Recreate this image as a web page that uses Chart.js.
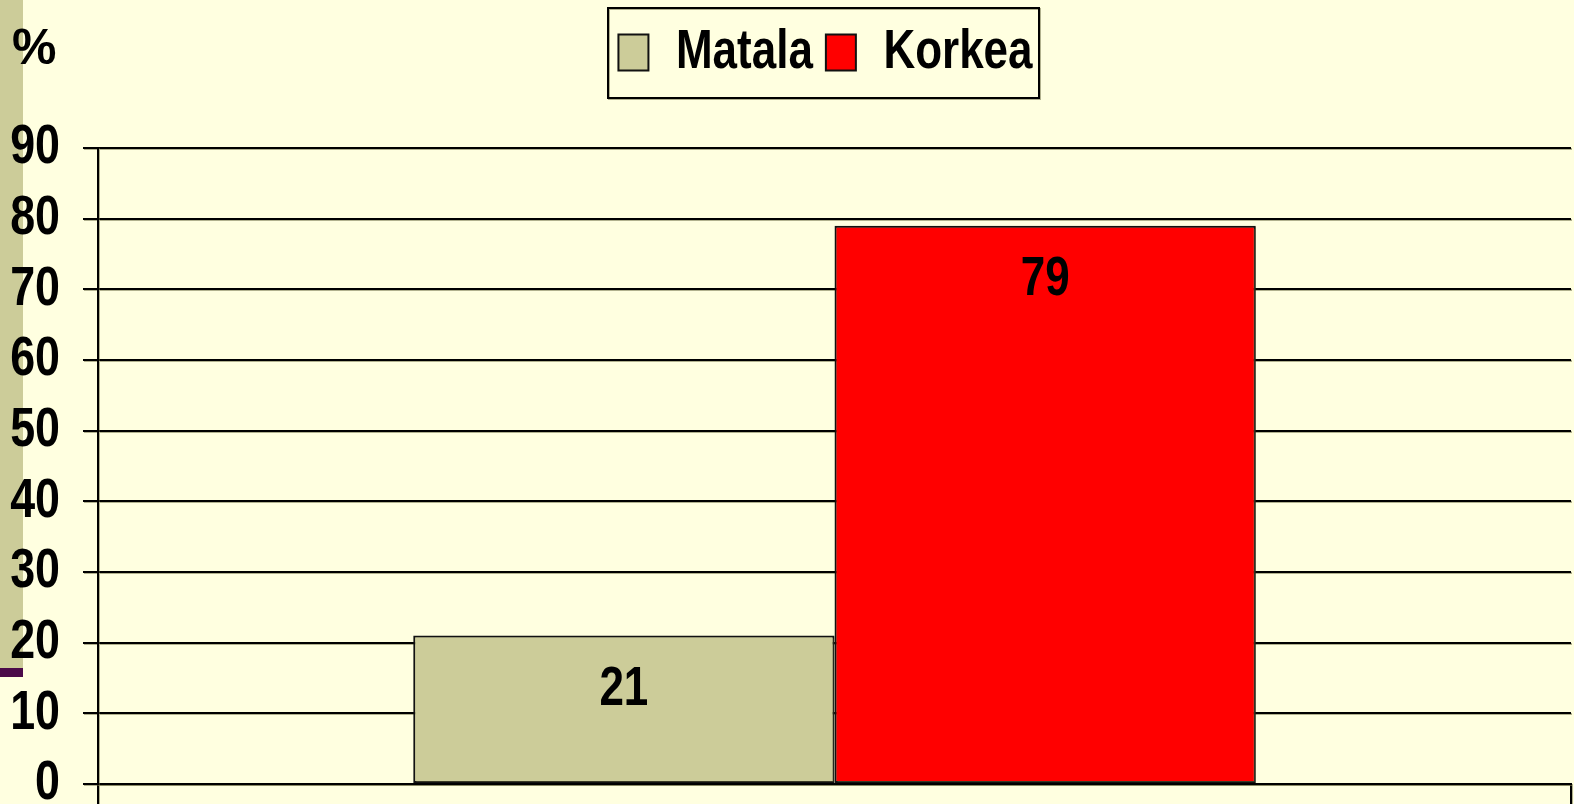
<!DOCTYPE html>
<html><head><meta charset="utf-8">
<script src="https://cdn.jsdelivr.net/npm/chart.js@4.4.1/dist/chart.umd.min.js"></script>
<style>
html,body{margin:0;padding:0;background:#FFFFE0;}
#wrap{position:relative;width:1574px;height:804px;}
#pct{position:absolute;left:12px;top:22px;font:bold 50px 'Liberation Sans',Arial,sans-serif;color:#000;line-height:1;}
</style></head><body>
<div id="wrap"><canvas id="c"></canvas><div id="pct">%</div></div>
<script>
const categories = [''];
const seriesNames = ['Matala', 'Korkea'];
const matalaValues = [21];
const korkeaValues = [79];
const yTickValues = [0, 10, 20, 30, 40, 50, 60, 70, 80, 90];

const F = "'Liberation Sans', Arial, sans-serif";

// Narrow (Arial Narrow-like) rendering of the chart's canvas text
const SQUEEZE = 0.8;
(function () {
  const P = CanvasRenderingContext2D.prototype;
  const f = P.fillText, m = P.measureText;
  P.fillText = function (t, x, y) {
    if (this.font.indexOf('Liberation Sans') < 0) return f.apply(this, arguments);
    this.save(); this.translate(x, y); this.scale(SQUEEZE, 1); f.call(this, t, 0, 0); this.restore();
  };
  P.measureText = function (t) {
    const r = m.call(this, t);
    if (this.font.indexOf('Liberation Sans') < 0) return r;
    return {
      width: r.width * SQUEEZE,
      actualBoundingBoxAscent: r.actualBoundingBoxAscent,
      actualBoundingBoxDescent: r.actualBoundingBoxDescent,
      actualBoundingBoxLeft: r.actualBoundingBoxLeft * SQUEEZE,
      actualBoundingBoxRight: r.actualBoundingBoxRight * SQUEEZE
    };
  };
})();

const SHADOW = 'rgba(100,100,60,0.5)';
function setShadow(ctx, on) {
  ctx.shadowColor = on ? SHADOW : 'rgba(0,0,0,0)';
  ctx.shadowOffsetX = on ? 1 : 0;
  ctx.shadowOffsetY = on ? 1 : 0;
  ctx.shadowBlur = 0;
}

const bgPlugin = {
  id: 'bg',
  beforeDraw(chart) {
    const ctx = chart.ctx;
    ctx.save();
    setShadow(ctx, false);
    ctx.fillStyle = '#FFFFE0';
    ctx.fillRect(0, 0, chart.width, chart.height);
    ctx.fillStyle = '#CCCC99';
    ctx.fillRect(0, 0, 23, 668);
    ctx.fillStyle = '#4B0A49';
    ctx.fillRect(0, 668, 23, 9);
    ctx.restore();
    setShadow(ctx, true);
  }
};

const legendPatch = {
  id: 'legendPatch',
  beforeInit(chart) {
    const lg = chart.legend;
    if (!lg || lg._patched) return;
    const fit = lg.fit, draw = lg.draw;
    lg.fit = function () { fit.call(this); this.height += 58; };
    lg.draw = function () {
      const hb = this.legendHitBoxes;
      let dx = 0;
      if (hb && hb.length) {
        const last = hb[hb.length - 1];
        dx = Math.round(825 - (hb[0].left + last.left + last.width) / 2);
      }
      this._dx = dx;
      const ctx = this.ctx;
      ctx.save();
      setShadow(ctx, false);
      ctx.translate(dx, 0);
      draw.apply(this, arguments);
      ctx.restore();
    };
    lg._patched = true;
  }
};

const legendBorder = {
  id: 'legendBorder',
  afterDraw(chart) {
    const lg = chart.legend;
    const hb = lg && lg.legendHitBoxes;
    if (!hb || !hb.length) return;
    const dx = lg._dx || 0;
    const last = hb[hb.length - 1];
    const l = hb[0].left - 10 + dx, r = last.left + last.width + 7 + dx;
    const t = hb[0].top - 17, b = hb[0].top + hb[0].height + 18;
    const ctx = chart.ctx;
    ctx.save();
    setShadow(ctx, true);
    ctx.strokeStyle = '#000';
    ctx.lineWidth = 2;
    ctx.strokeRect(Math.round(l), Math.round(t), Math.round(r - l), Math.round(b - t));
    ctx.restore();
  }
};

const valueLabels = {
  id: 'valueLabels',
  afterDatasetsDraw(chart) {
    const ctx = chart.ctx;
    setShadow(ctx, false);
    ctx.save();
    ctx.font = 'bold 55px ' + F;
    ctx.fillStyle = '#000';
    ctx.textAlign = 'center';
    ctx.textBaseline = 'middle';
    chart.data.datasets.forEach((ds, i) => {
      const meta = chart.getDatasetMeta(i);
      meta.data.forEach((bar, j) => {
        ctx.fillText(String(ds.data[j]), bar.x, bar.y + 54);
      });
    });
    ctx.restore();
  }
};

new Chart(document.getElementById('c'), {
  type: 'bar',
  data: {
    labels: categories,
    datasets: [
      { label: seriesNames[0], data: matalaValues, backgroundColor: '#CCCC99', borderColor: '#111', borderWidth: 2, borderSkipped: false },
      { label: seriesNames[1], data: korkeaValues, backgroundColor: '#FF0000', borderColor: '#111', borderWidth: 2, borderSkipped: false }
    ]
  },
  options: {
    responsive: true,
    maintainAspectRatio: false,
    animation: false,
    datasets: { bar: { categoryPercentage: 0.572, barPercentage: 1 } },
    layout: { padding: { left: 0, top: 12, right: 3, bottom: 0 } },
    plugins: {
      legend: {
        position: 'top', align: 'center',
        labels: { font: { family: F, size: 55, weight: 'bold' }, color: '#000', boxWidth: 30, boxHeight: 36, padding: 13 }
      },
      tooltip: { enabled: false }
    },
    scales: {
      x: {
        afterFit(s) { s.height = 20; s.paddingLeft = 0; s.paddingRight = 0; },
        grid: { offset: true, drawOnChartArea: false, tickLength: 20, color: '#000', lineWidth: 2 },
        border: { display: true, color: '#000', width: 2 },
        ticks: { display: false }
      },
      y: {
        min: 0, max: 90,
        afterBuildTicks(s) { s.ticks = yTickValues.map(v => ({ value: v })); },
        afterFit(s) { s.width = 98; s.paddingTop = 0; s.paddingBottom = 0; },
        grid: { color: '#000', lineWidth: 2, tickLength: 15 },
        border: { display: true, color: '#000', width: 2 },
        ticks: { font: { family: F, size: 56, weight: 'bold' }, color: '#000', padding: 23, z: 1 }
      }
    }
  },
  plugins: [bgPlugin, legendPatch, legendBorder, valueLabels]
});
</script>
</body></html>
